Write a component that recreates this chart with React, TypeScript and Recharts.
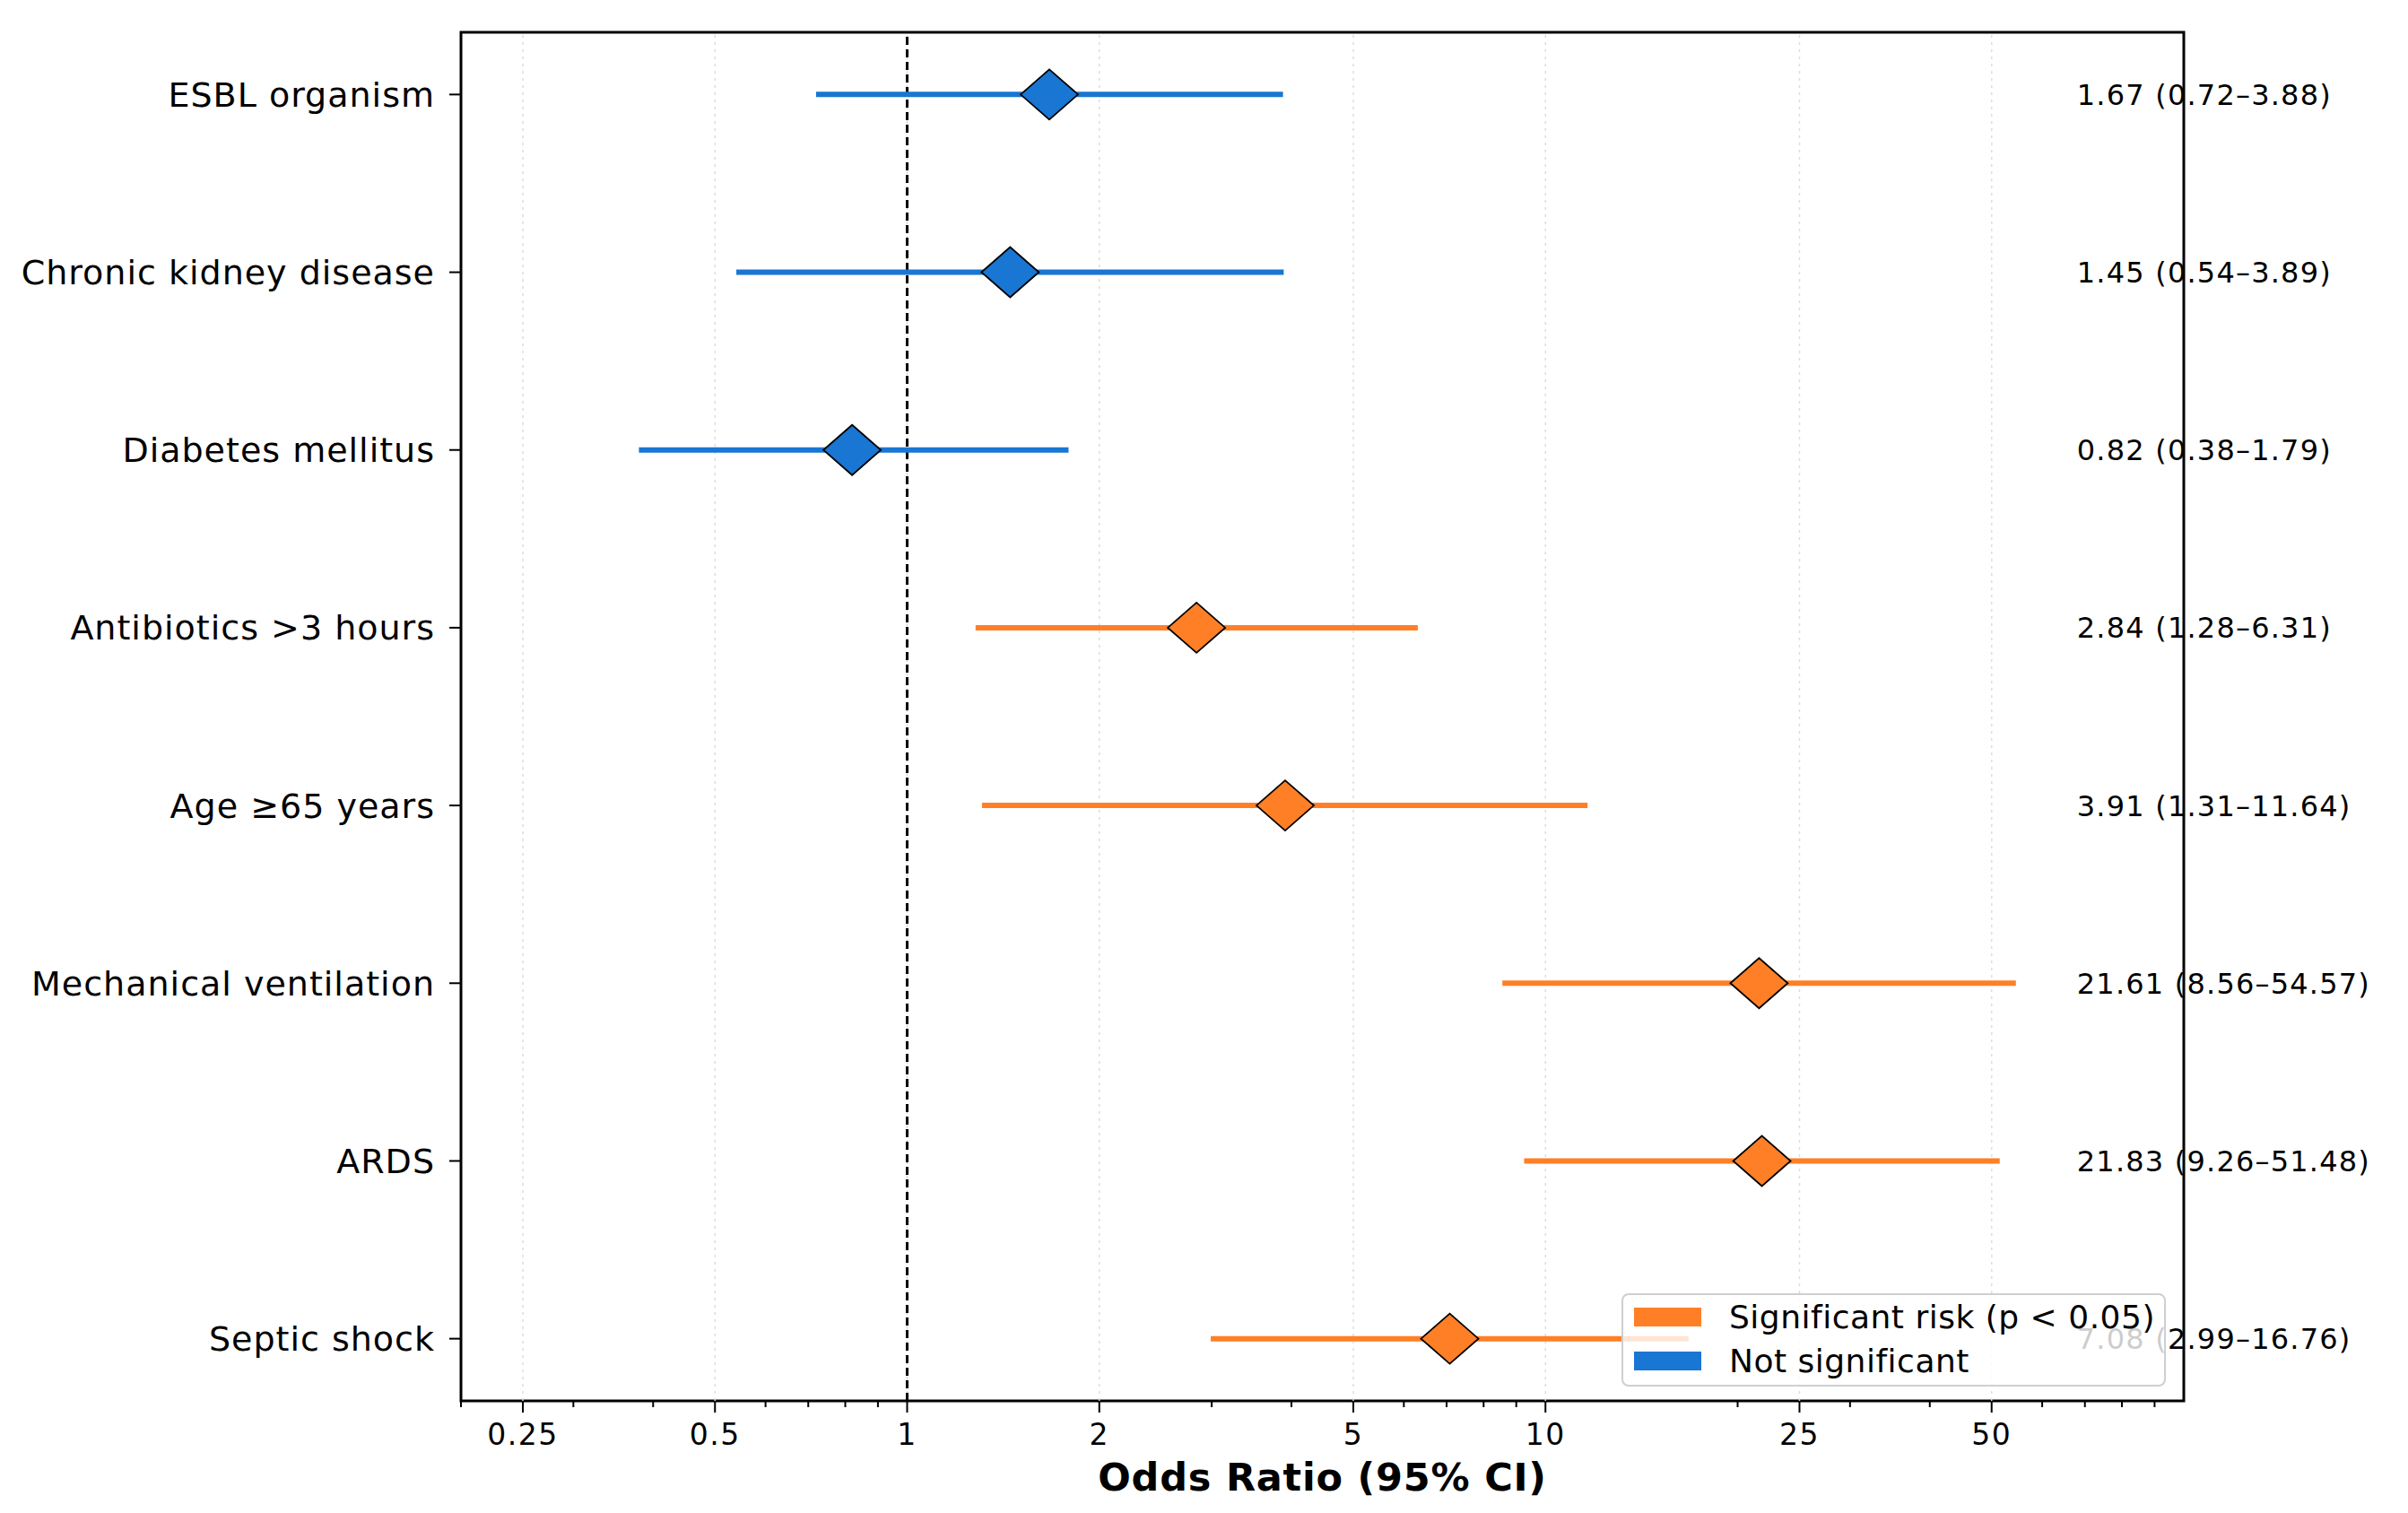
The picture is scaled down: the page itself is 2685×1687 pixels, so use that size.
import { ScatterChart, Scatter, XAxis, YAxis, ErrorBar, ReferenceLine, ReferenceArea, Legend } from 'recharts';

const FONT = '"DejaVu Sans", sans-serif';
const ORANGE = '#FF7F27';
const BLUE = '#1976D2';

// Forest plot data, top row first
const factors = [
  'ESBL organism',
  'Chronic kidney disease',
  'Diabetes mellitus',
  'Antibiotics >3 hours',
  'Age ≥65 years',
  'Mechanical ventilation',
  'ARDS',
  'Septic shock',
];
const oddsRatios = [1.67, 1.45, 0.82, 2.84, 3.91, 21.61, 21.83, 7.08];
const ciLower = [0.72, 0.54, 0.38, 1.28, 1.31, 8.56, 9.26, 2.99];
const ciUpper = [3.88, 3.89, 1.79, 6.31, 11.64, 54.57, 51.48, 16.76];
const significant = [false, false, false, true, true, true, true, true];

const majorTicks = [0.25, 0.5, 1, 2, 5, 10, 25, 50];
const minorTicks = [0.2, 0.3, 0.4, 0.6, 0.7, 0.8, 0.9, 3, 4, 6, 7, 8, 9, 20, 30, 40, 60, 70, 80, 90];

const legendItems = [
  { label: 'Significant risk (p < 0.05)', color: ORANGE },
  { label: 'Not significant', color: BLUE },
];

// x position (in OR units) where the text column starts
const LABEL_X = 68;

const rows = factors.map((name, i) => ({
  name,
  x: oddsRatios[i],
  y: i,
  err: [oddsRatios[i] - ciLower[i], ciUpper[i] - oddsRatios[i]],
  sig: significant[i],
  text: `${oddsRatios[i].toFixed(2)} (${ciLower[i].toFixed(2)}–${ciUpper[i].toFixed(2)})`,
}));
const sigRows = rows.filter((r) => r.sig);
const nsRows = rows.filter((r) => !r.sig);
const textRows = rows.map((r) => ({ ...r, x: LABEL_X }));

const allTicks = [...majorTicks, ...minorTicks].sort((a, b) => a - b);

const diamond = (color: string) => (props: any) => {
  const { cx, cy } = props;
  if (cx == null || cy == null) return <g />;
  const w = 32;
  const h = 28;
  return (
    <polygon
      points={`${cx - w},${cy} ${cx},${cy - h} ${cx + w},${cy} ${cx},${cy + h}`}
      fill={color}
      stroke="#000"
      strokeWidth={1.8}
    />
  );
};

const XTick = (props: any) => {
  const { x, y, payload } = props;
  const major = majorTicks.includes(payload.value);
  return (
    <g>
      <line x1={x} x2={x} y1={y} y2={y + (major ? 13 : 7)} stroke="#000" strokeWidth={2} />
      {major && (
        <text
          x={x}
          y={y + 49}
          textAnchor="middle"
          fontSize={33}
          letterSpacing={1.5}
          fontFamily={FONT}
          fill="#000"
        >
          {String(payload.value)}
        </text>
      )}
    </g>
  );
};

const renderLegend = () => (
  <div
    style={{
      boxSizing: 'border-box',
      width: '100%',
      height: '100%',
      background: 'rgba(255,255,255,0.8)',
      border: '2.5px solid #cfcfcf',
      borderRadius: 8,
      fontFamily: FONT,
    }}
  >
    {legendItems.map((item) => (
      <div key={item.label} style={{ display: 'flex', alignItems: 'center', height: 49 }}>
        <span style={{ width: 75, height: 21, background: item.color, marginLeft: 12, flexShrink: 0 }} />
        <span style={{ marginLeft: 31, fontSize: 36, letterSpacing: 0.5, color: '#000', whiteSpace: 'nowrap' }}>
          {item.label}
        </span>
      </div>
    ))}
  </div>
);

export default function App() {
  return (
    <div style={{ position: 'absolute', left: 0, top: 0, width: 2685, height: 1687, background: '#fff' }}>
      <ScatterChart width={2685} height={1687} margin={{ top: 36, right: 250, bottom: 0, left: 0 }}>
        <XAxis
          type="number"
          dataKey="x"
          scale="log"
          domain={[0.2, 100]}
          ticks={allTicks}
          interval={0}
          tickSize={0}
          tickMargin={0}
          tickLine={false}
          axisLine={false}
          height={125}
          tick={<XTick />}
          label={{
            value: 'Odds Ratio (95% CI)',
            position: 'insideBottom',
            offset: 25,
            fontSize: 43,
            letterSpacing: 0.8,
            fontWeight: 'bold',
            fontFamily: FONT,
            fill: '#000',
          }}
        />
        <YAxis
          type="number"
          dataKey="y"
          domain={[-0.35, 7.35]}
          reversed
          ticks={factors.map((_, i) => i)}
          interval={0}
          tickFormatter={(i: number) => factors[i] ?? ''}
          width={514}
          tickSize={13}
          tickMargin={16}
          tickLine={{ stroke: '#000', strokeWidth: 2 }}
          axisLine={false}
          tick={{ fontSize: 38, letterSpacing: 1, fill: '#000', fontFamily: FONT }}
        />
        {majorTicks.map((t) => (
          <ReferenceLine key={`grid-${t}`} x={t} stroke="#dddddd" strokeWidth={1.5} strokeDasharray="3 5" />
        ))}
        <ReferenceLine x={1} stroke="#000" strokeWidth={3} strokeDasharray="9 5" />
        <Scatter data={nsRows} shape={diamond(BLUE)} isAnimationActive={false}>
          <ErrorBar dataKey="err" direction="x" width={0} stroke={BLUE} strokeWidth={6} isAnimationActive={false} />
        </Scatter>
        <Scatter data={sigRows} shape={diamond(ORANGE)} isAnimationActive={false}>
          <ErrorBar dataKey="err" direction="x" width={0} stroke={ORANGE} strokeWidth={6} isAnimationActive={false} />
        </Scatter>
        <Scatter
          data={textRows}
          isAnimationActive={false}
          shape={(p: any) => (
            <text x={p.cx} y={p.cy} dy="0.36em" fontSize={32} letterSpacing={1.2} fontFamily={FONT} fill="#000">
              {p.payload.text}
            </text>
          )}
        />
        <ReferenceArea x1={0.2} x2={100} y1={-0.35} y2={7.35} fill="none" stroke="#000" strokeWidth={3} />
        <Legend
          layout="vertical"
          align="center"
          verticalAlign="middle"
          wrapperStyle={{ left: 1808, top: 1442, width: 607, height: 104 }}
          content={renderLegend}
        />
      </ScatterChart>
    </div>
  );
}
